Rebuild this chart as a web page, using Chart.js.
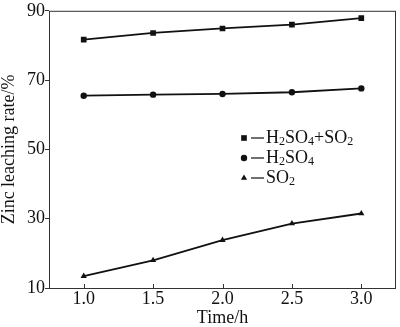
<!DOCTYPE html>
<html>
<head>
  <script src="https://cdn.jsdelivr.net/npm/chart.js"></script>
  <style>
    html, body { margin: 0; padding: 0; background: #fff; }
    #wrap { width: 400px; height: 327px; }
  </style>
</head>
<body>
  <div id="wrap"><canvas id="chart" width="400" height="327"></canvas></div>
  <script>
    // data
    const times = [1.0, 1.5, 2.0, 2.5, 3.0];
    const mixed = [81.7, 83.6, 84.9, 86.0, 87.9];   // H2SO4+SO2
    const acid = [65.5, 65.8, 66.0, 66.5, 67.6];    // H2SO4
    const sulfur = [13.4, 18.0, 23.8, 28.6, 31.5];  // SO2
    const seriesNames = ['H2SO4+SO2', 'H2SO4', 'SO2'];
    const markers = ['rect', 'circle', 'triangle'];
    const xTicks = [1.0, 1.5, 2.0, 2.5, 3.0];
    const yTicks = [10, 30, 50, 70, 90];

    const FONT = '"Liberation Serif", "Times New Roman", serif';
    const INK = '#111';

    const pts = vals => times.map((t, i) => ({ x: t, y: vals[i] }));

    function makeSet(name, vals, marker, r) {
      return {
        label: name,
        data: pts(vals),
        borderColor: INK,
        backgroundColor: INK,
        borderWidth: 1.8,
        pointStyle: marker,
        pointRadius: r,
        pointBorderWidth: 0,
        tension: 0
      };
    }

    // draw text where digits after letters become subscripts
    function drawChem(ctx, text, x, y, size) {
      const parts = text.match(/[A-Za-z+]+|\d+/g);
      parts.forEach(p => {
        const sub = /^\d+$/.test(p);
        ctx.font = (sub ? Math.round(size * 0.65) : size) + 'px ' + FONT;
        ctx.fillText(p, x, sub ? y + size * 0.22 : y);
        x += ctx.measureText(p).width;
      });
    }

    const framePlugin = {
      id: 'frame',
      afterDraw(chart) {
        const { ctx, chartArea: a, scales } = chart;
        ctx.save();
        ctx.strokeStyle = '#333';
        ctx.lineWidth = 1;
        ctx.strokeRect(a.left + 0.5, a.top + 0.5, a.right - a.left - 1, a.bottom - a.top);
        // x ticks pointing inward
        xTicks.forEach(v => {
          const px = Math.round(scales.x.getPixelForValue(v)) + 0.5;
          ctx.beginPath();
          ctx.moveTo(px, a.bottom);
          ctx.lineTo(px, a.bottom - 4);
          ctx.stroke();
        });

        // legend
        const rows = [138, 158, 178];
        ctx.fillStyle = INK;
        ctx.strokeStyle = INK;
        ctx.textBaseline = 'middle';
        ctx.textAlign = 'left';
        seriesNames.forEach((name, i) => {
          const y = rows[i];
          const ds = chart.data.datasets[i];
          Chart.helpers.drawPoint(ctx, {
            pointStyle: markers[i],
            radius: ds.pointRadius,
            borderWidth: 0
          }, 244, y);
          ctx.lineWidth = 1.2;
          ctx.beginPath();
          ctx.moveTo(251, y);
          ctx.lineTo(264, y);
          ctx.stroke();
          drawChem(ctx, name, 266, y, 18);
        });
        ctx.restore();
      }
    };

    new Chart(document.getElementById('chart'), {
      type: 'line',
      data: {
        datasets: [
          makeSet(seriesNames[0], mixed, markers[0], 4),
          makeSet(seriesNames[1], acid, markers[1], 3.2),
          makeSet(seriesNames[2], sulfur, markers[2], 3.6)
        ]
      },
      options: {
        responsive: false,
        animation: false,
        layout: { padding: { top: 7, right: 2, left: 0, bottom: 0 } },
        plugins: { legend: { display: false }, tooltip: { enabled: false } },
        scales: {
          x: {
            type: 'linear',
            min: 0.75,
            max: 3.25,
            afterBuildTicks: s => { s.ticks = xTicks.map(v => ({ value: v })); },
            afterFit: s => { s.height = 39; },
            grid: { display: false, drawTicks: false },
            border: { display: false },
            ticks: {
              color: INK,
              padding: 0,
              font: { family: FONT, size: 18 },
              callback: v => Number(v).toFixed(1)
            },
            title: {
              display: true,
              text: 'Time/h',
              color: INK,
              font: { family: FONT, size: 18, lineHeight: 1 },
              padding: { top: 0, bottom: 0 }
            }
          },
          y: {
            min: 10,
            max: 90,
            afterBuildTicks: s => { s.ticks = yTicks.map(v => ({ value: v })); },
            afterFit: s => { s.width = 49; },
            grid: { drawOnChartArea: false, drawTicks: true, tickLength: 4, color: '#333' },
            border: { display: false },
            ticks: {
              color: INK,
              padding: 0,
              font: { family: FONT, size: 18 }
            },
            title: {
              display: true,
              text: 'Zinc leaching rate/%',
              color: INK,
              font: { family: FONT, size: 18, lineHeight: 1 },
              padding: { top: 0, bottom: 0 }
            }
          }
        }
      },
      plugins: [framePlugin]
    });
  </script>
</body>
</html>
